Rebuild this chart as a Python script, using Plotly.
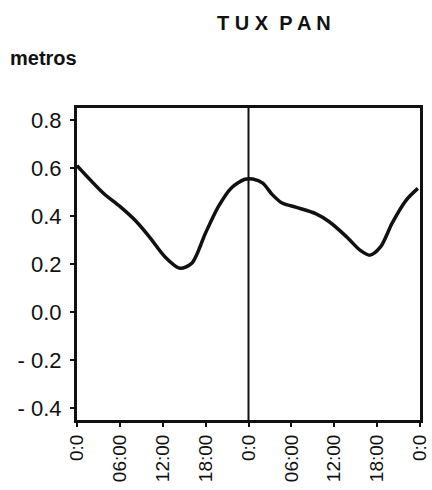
import plotly.graph_objects as go

# Data (hours since start, water level in metres)
hours = [0.0, 3.7, 6.0, 8.1, 10.1, 12.3, 14.4, 16.1, 18.0, 19.8, 21.6, 23.5,
         24.6, 26.0, 27.3, 28.7, 30.7, 33.4, 35.3, 37.7, 39.6, 41.0, 42.5,
         44.1, 46.1, 47.7]
level = [0.61, 0.495, 0.44, 0.383, 0.314, 0.23, 0.182, 0.204, 0.33, 0.44,
         0.517, 0.553, 0.554, 0.537, 0.49, 0.454, 0.436, 0.41, 0.376, 0.314,
         0.258, 0.237, 0.272, 0.37, 0.467, 0.515]

x_tickvals = [0, 6, 12, 18, 24, 30, 36, 42, 48]
x_ticktext = ["0:0", "06:00", "12:00", "18:00", "0:0", "06:00", "12:00", "18:00", "0:0"]
y_tickvals = [0.8, 0.6, 0.4, 0.2, 0.0, -0.2, -0.4]
y_ticktext = ["0.8", "0.6", "0.4", "0.2", "0.0", "- 0.2", "- 0.4"]
day_boundary = 24
title_text = "T U X  P A N"
unit_text = "metros"

ink = "#111111"
fig = go.Figure()
fig.add_trace(go.Scatter(x=hours, y=level, mode="lines",
                         line=dict(color=ink, width=3.5, shape="spline", smoothing=0.8),
                         hoverinfo="skip", showlegend=False))

fig.add_vline(x=day_boundary, line=dict(color=ink, width=2))

fig.update_layout(
    width=432, height=490,
    margin=dict(l=77, r=12, t=108, b=70, autoexpand=False),
    paper_bgcolor="white", plot_bgcolor="white",
    font=dict(family="Liberation Sans, Arial, sans-serif", color=ink),
    showlegend=False,
    annotations=[
        dict(text="<b>%s</b>" % title_text, xref="paper", yref="paper",
             x=0.575, y=1.0, yshift=85, xanchor="center", yanchor="middle",
             showarrow=False, font=dict(size=20, color=ink)),
        dict(text="<b>%s</b>" % unit_text, xref="paper", yref="paper",
             x=-0.2, y=1.0, yshift=50, xanchor="left", yanchor="middle",
             showarrow=False, font=dict(size=20, color=ink)),
    ],
)
fig.update_xaxes(range=[0, 48], tickvals=x_tickvals, ticktext=x_ticktext,
                 tickangle=-90, tickfont=dict(size=19, color=ink),
                 showline=True, linewidth=3, linecolor=ink, mirror=True,
                 ticks="outside", ticklen=4, tickwidth=2, tickcolor=ink,
                 automargin=False,
                 showgrid=False, zeroline=False, fixedrange=True)
fig.update_yaxes(range=[-0.45, 0.85], tickvals=y_tickvals, ticktext=y_ticktext,
                 tickfont=dict(size=22, color=ink),
                 showline=True, linewidth=3, linecolor=ink, mirror=True,
                 ticks="outside", ticklen=4, tickwidth=2, tickcolor=ink,
                 ticklabelstandoff=4, automargin=False,
                 showgrid=False, zeroline=False, fixedrange=True)

fig.write_html("out.html", config={"displayModeBar": False},
               post_script="document.body.style.margin='0';"
                           "document.body.style.overflow='hidden';")
